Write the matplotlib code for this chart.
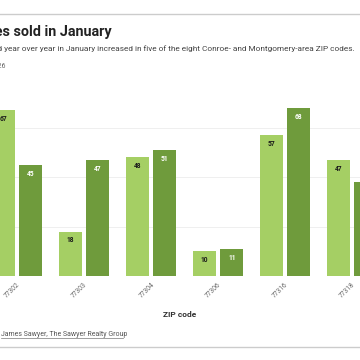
import matplotlib.pyplot as plt
import numpy as np

zips = ['77302', '77303', '77304', '77306', '77316', '77318']
jan_2025 = [67, 18, 48, 10, 57, 47]
jan_2026 = [45, 47, 51, 11, 68, 38]

light = '#a5cf64'
dark = '#6f9b3c'

plt.rcParams['font.family'] = ['Roboto', 'DejaVu Sans']

fig = plt.figure(figsize=(3.6, 3.6), dpi=100)
W = H = 360.0

# axes extend past the left/right edges, the chart is cropped
ax = fig.add_axes([0, 1 - 276 / H, 1, 173 / H])
x = np.arange(len(zips))
off = 0.205
w = 0.34
b1 = ax.bar(x - off, jan_2025, w, color=light, zorder=2)
b2 = ax.bar(x + off, jan_2026, w, color=dark, zorder=2)

for r, v in zip(b1, jan_2025):
    ax.text(r.get_x() + r.get_width() / 2, v - 2, str(v), ha='center', va='top',
            fontsize=4.8, fontweight='bold', color='#1a1a1a')
for r, v in zip(b2, jan_2026):
    ax.text(r.get_x() + r.get_width() / 2, v - 2, str(v), ha='center', va='top',
            fontsize=4.8, fontweight='bold', color='white')

ax.set_xlim(-17 / 67, 343 / 67)
ax.set_ylim(0, 70)
ax.set_yticks([20, 40, 60])
ax.yaxis.grid(True, color='#ececec', linewidth=0.6, zorder=0)
ax.tick_params(axis='y', length=0, labelleft=False)
ax.set_xticks(x)
ax.set_xticklabels(zips, rotation=45, ha='right', rotation_mode='anchor',
                   fontsize=4.8, color='#666666')
ax.tick_params(axis='x', length=0, pad=4)
for s in ax.spines.values():
    s.set_visible(False)
ax.axhline(0, color='#dddddd', linewidth=0.6, zorder=1)

ax.set_xlabel('ZIP code', fontsize=6, fontweight='bold', color='#333333', labelpad=8)

# header and footer
fig.add_artist(plt.Line2D([0, 1], [1 - 14 / H, 1 - 14 / H], color='#cccccc', linewidth=1))
fig.add_artist(plt.Line2D([0, 1], [1 - 347 / H, 1 - 347 / H], color='#cccccc', linewidth=1))
fig.text(112 / W, 1 - 32 / H, 'Homes sold in January', ha='right', va='center',
         fontsize=10.4, fontweight='bold', color='#222222')
fig.text(355 / W, 1 - 49 / H,
         'The number of homes sold year over year in January increased in five of the eight Conroe- and Montgomery-area ZIP codes.',
         ha='right', va='center', fontsize=5.94, color='#444444')
fig.text(5 / W, 1 - 67 / H, 'Jan. 2025 vs. Jan. 2026', ha='right', va='center',
         fontsize=5, color='#666666')
fig.text(1 / W, 1 - 334 / H, 'James Sawyer, The Sawyer Realty Group', ha='left', va='center',
         fontsize=5, color='#555555')
fig.add_artist(plt.Line2D([1 / W, 123 / W], [1 - 337.5 / H, 1 - 337.5 / H], color='#777777', linewidth=0.5))

fig.savefig('out.png', dpi=100)
